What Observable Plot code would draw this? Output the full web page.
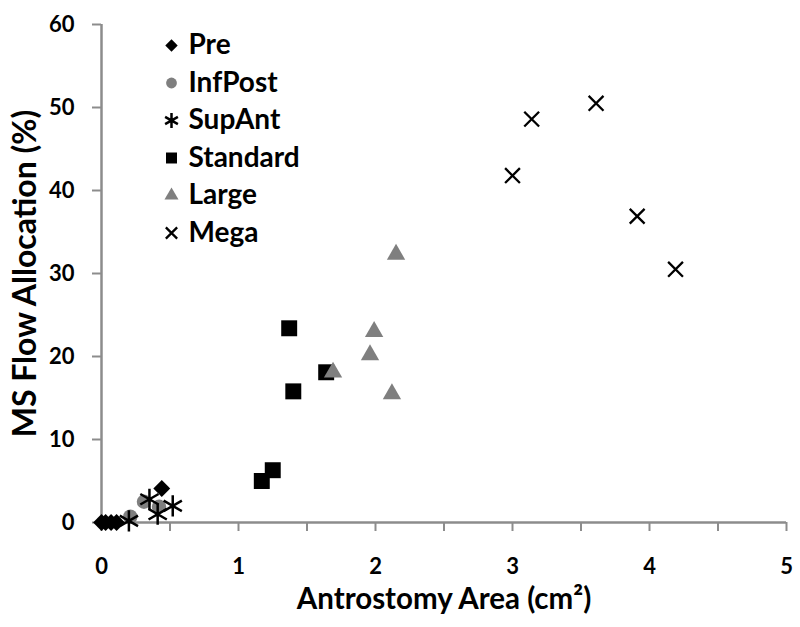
<!DOCTYPE html>
<html><head><meta charset="utf-8">
<script src="https://cdn.jsdelivr.net/npm/d3@7"></script>
<script src="https://cdn.jsdelivr.net/npm/@observablehq/plot@0.6"></script>
<style>body{margin:0;background:#fff}</style>
</head><body><div id="chart"></div>
<script>
// ---- data ----
const seriesNames = ["Pre", "InfPost", "SupAnt", "Standard", "Large", "Mega"];
const preX = [0, 0.03, 0.07, 0.11, 0.44];
const preY = [0, 0, 0, 0, 4.1];
const infPostX = [0.21, 0.31, 0.42];
const infPostY = [0.7, 2.5, 1.9];
const supAntX = [0.20, 0.35, 0.41, 0.52];
const supAntY = [0.2, 2.8, 1.0, 2.0];
const standardX = [1.17, 1.25, 1.37, 1.40, 1.64];
const standardY = [5.0, 6.3, 23.4, 15.8, 18.1];
const largeX = [1.69, 1.96, 1.99, 2.12, 2.15];
const largeY = [18.1, 20.2, 23.0, 15.5, 32.3];
const megaX = [3.00, 3.14, 3.61, 3.91, 4.19];
const megaY = [41.8, 48.6, 50.5, 36.9, 30.5];
const xTicks = [0, 0.5, 1, 1.5, 2, 2.5, 3, 3.5, 4, 4.5, 5];
const xTickLabels = ["0", "", "1", "", "2", "", "3", "", "4", "", "5"];
const yTicks = [0, 10, 20, 30, 40, 50, 60];
const xTitle = "Antrostomy Area (cm²)";
const yTitle = "MS Flow Allocation (%)";

// ---- styles ----
const black = "#000", gray = "#7f7f7f", axisGray = "#8c8c8c";
const styles = [
  {symbol: "diamond2", fill: black, r: 7.6, lr: 5.6},
  {symbol: "circle", fill: gray, r: 7.2, lr: 5.4},
  {symbol: "asterisk", stroke: black, strokeWidth: 2.5, r: 10, lr: 7},
  {symbol: "square", fill: black, r: 9, lr: 6.2},
  {symbol: "triangle", fill: gray, r: 6.8, lr: 5.2},
  {symbol: "times", stroke: black, strokeWidth: 2.3, r: 6.8, lr: 5.2}
];
const xsAll = [preX, infPostX, supAntX, standardX, largeX, megaX];
const ysAll = [preY, infPostY, supAntY, standardY, largeY, megaY];
const series = seriesNames.map((name, i) => ({
  name,
  points: xsAll[i].map((x, j) => ({x, y: ysAll[i][j]})),
  style: styles[i]
}));

function dotStyle(st, r) {
  const o = {symbol: st.symbol, r};
  if (st.fill) { o.fill = st.fill; o.stroke = "none"; }
  else { o.fill = "none"; o.stroke = st.stroke; o.strokeWidth = st.strokeWidth; }
  return o;
}

const marks = [
  Plot.ruleX([0], {stroke: axisGray, strokeWidth: 2.5}),
  Plot.ruleY([0], {stroke: axisGray, strokeWidth: 2.5}),
  Plot.axisX({ticks: xTicks, tickSize: 9, tickPadding: 27, stroke: axisGray, strokeWidth: 2,
    fill: black, fontSize: 22, tickFormat: (d) => xTickLabels[xTicks.indexOf(d)], label: null}),
  Plot.axisY({ticks: yTicks, tickSize: 9, tickPadding: 18, stroke: axisGray, strokeWidth: 2,
    fill: black, fontSize: 22, label: null}),
  Plot.text([xTitle], {frameAnchor: "bottom", dy: 77, lineAnchor: "middle", textAnchor: "middle",
    fontSize: 29.5, fontWeight: "bold", fill: black}),
  Plot.text([yTitle], {frameAnchor: "left", dx: -76, rotate: -90, lineAnchor: "middle", textAnchor: "middle",
    fontSize: 32, fontWeight: "bold", fill: black}),
  ...series.map(s => Plot.dot(s.points, {x: "x", y: "y", ...dotStyle(s.style, s.style.r)})),
  ...series.flatMap((s, i) => [
    Plot.dot([s.name], {frameAnchor: "top-left", dx: 70, dy: 21 + i * 37.5, ...dotStyle(s.style, s.style.lr)}),
    Plot.text([s.name], {frameAnchor: "top-left", dx: 87, dy: 21 + i * 37.5, text: d => d,
      lineAnchor: "middle", textAnchor: "start", fontSize: 28, fontWeight: "bold", fill: black})
  ])
];

const chart = Plot.plot({
  width: 800, height: 627,
  marginLeft: 101, marginRight: 14, marginTop: 24, marginBottom: 105,
  x: {domain: [0, 5]},
  y: {domain: [0, 60]},
  style: {fontFamily: "Lato, sans-serif", fontWeight: "bold", background: "#fff", overflow: "visible"},
  marks
});
document.getElementById("chart").appendChild(chart);
</script>
</body></html>
